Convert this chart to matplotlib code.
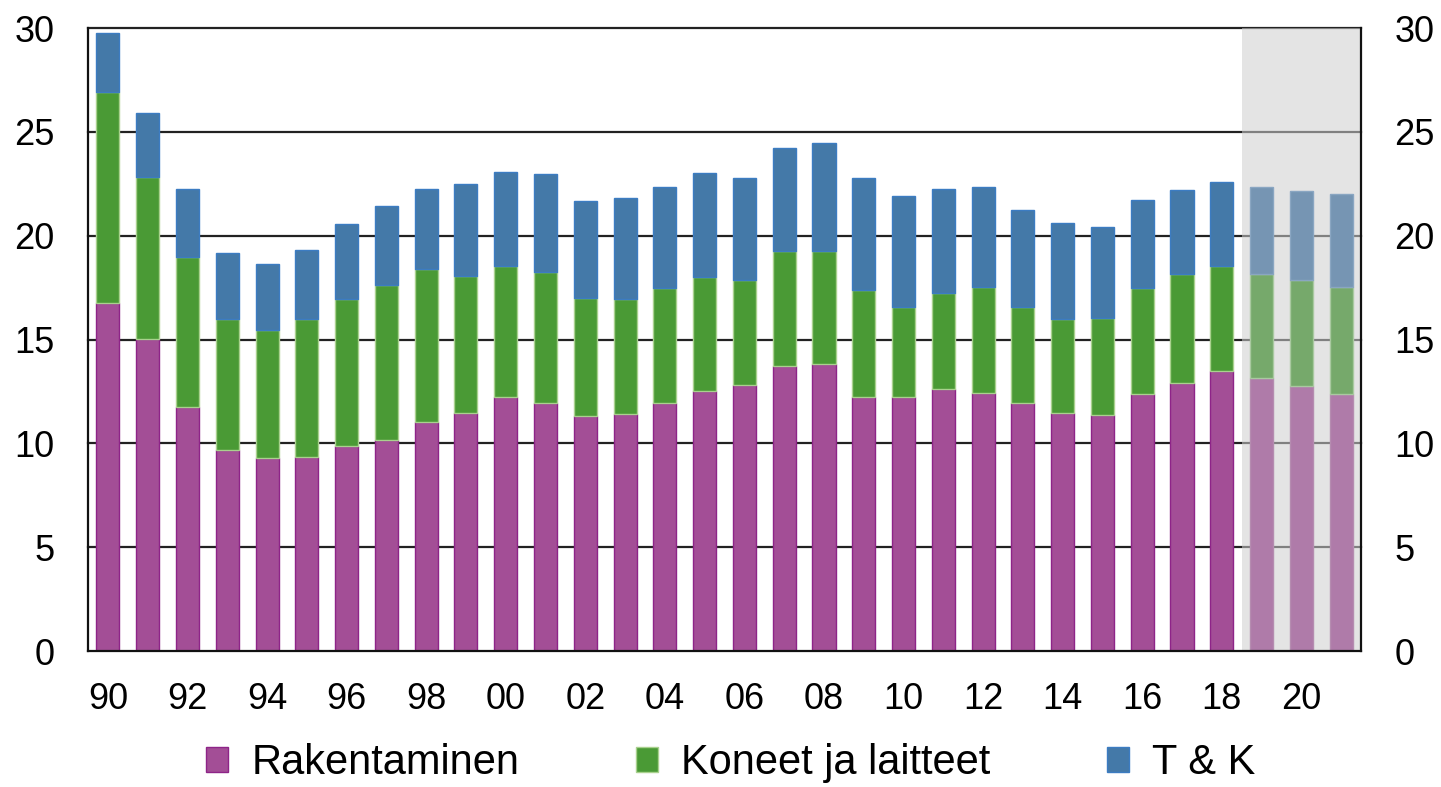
import numpy as np
import matplotlib
matplotlib.use("Agg")
import matplotlib.pyplot as plt

plt.rcParams["font.family"] = ["Liberation Sans", "DejaVu Sans"]

# investment shares (% of GDP), 1990-2021; 2019-2021 forecast
years = list(range(1990, 2022))
rakentaminen = [16.74, 15.02, 11.76, 9.66, 9.29, 9.36, 9.87, 10.18, 11.01, 11.46,
                12.21, 11.93, 11.31, 11.39, 11.93, 12.52, 12.81, 13.74, 13.80, 12.21,
                12.21, 12.60, 12.44, 11.93, 11.46, 11.38, 12.37, 12.92, 13.49, 13.13,
                12.74, 12.37]
koneet = [10.16, 7.82, 7.22, 6.32, 6.15, 6.62, 7.08, 7.44, 7.38, 6.61,
          6.33, 6.30, 5.71, 5.56, 5.55, 5.49, 5.04, 5.53, 5.47, 5.19,
          4.37, 4.65, 5.10, 4.65, 4.52, 4.67, 5.11, 5.23, 5.03, 5.02,
          5.12, 5.17]
tk = [2.84, 3.05, 3.28, 3.21, 3.21, 3.34, 3.59, 3.82, 3.87, 4.43,
      4.55, 4.72, 4.65, 4.88, 4.86, 5.02, 4.94, 4.96, 5.19, 5.39,
      5.31, 5.02, 4.80, 4.64, 4.64, 4.35, 4.26, 4.05, 4.05, 4.21,
      4.27, 4.45]
first_forecast = 2019
labels = ["Rakentaminen", "Koneet ja laitteet", "T & K"]

FILL = ["#A34E96", "#4A9A35", "#4479A8"]
EDGE = ["#8E2488", "#A9D18E", "#3C7CC2"]
FILL_FC = ["#AF7BA9", "#76A96B", "#7695B3"]
EDGE_FC = ["#B58CB0", "#A9C9A0", "#8AA6C2"]

x = np.arange(len(years))
n_hist = years.index(first_forecast)
series = [np.array(rakentaminen), np.array(koneet), np.array(tk)]

fig = plt.figure(figsize=(14.41, 7.87), dpi=100)
ax = fig.add_axes([0.0611, 0.1728, 0.8834, 0.7916])

W = 0.58
bottom = np.zeros(len(years))
handles = []
for i, vals in enumerate(series):
    h = ax.bar(x[:n_hist], vals[:n_hist], W, bottom=bottom[:n_hist],
               color=FILL[i], edgecolor=EDGE[i], lw=1.0, zorder=3, label=labels[i])
    ax.bar(x[n_hist:], vals[n_hist:], W, bottom=bottom[n_hist:],
           color=FILL_FC[i], edgecolor=EDGE_FC[i], lw=1.0, zorder=3)
    handles.append(h)
    bottom += vals

# forecast shading (over the grid, under the bars)
ax.axvspan(n_hist - 0.5, len(years) - 0.5, color="#CFCFCF", alpha=0.55, lw=0, zorder=2)

ax.set_xlim(-0.5, len(years) - 0.5)
ax.set_ylim(0, 30)
ax.set_yticks(range(0, 31, 5))
for yv in range(5, 31, 5):
    ax.axhline(yv, color="#222222", lw=1.6, zorder=1, clip_on=False)

ax.spines["top"].set_visible(False)
for s in ("left", "right", "bottom"):
    ax.spines[s].set_linewidth(1.6)
    ax.spines[s].set_color("#111111")
    ax.spines[s].set_zorder(4)

ax.set_xticks(x[::2])
ax.set_xticklabels([f"{y % 100:02d}" for y in years[::2]])
ax.tick_params(axis="x", length=0, pad=22, labelsize=26)
ax.tick_params(axis="y", length=0, pad=24, labelsize=26,
               left=True, right=True, labelleft=True, labelright=True)

fig.legend(handles=handles, labels=labels, loc="center", bbox_to_anchor=(0.507, 0.030),
           ncol=3, frameon=False, fontsize=30, handlelength=0.53, handleheight=0.53,
           handletextpad=0.55, columnspacing=2.8, borderpad=0, borderaxespad=0)

fig.savefig("out.png", dpi=100)
